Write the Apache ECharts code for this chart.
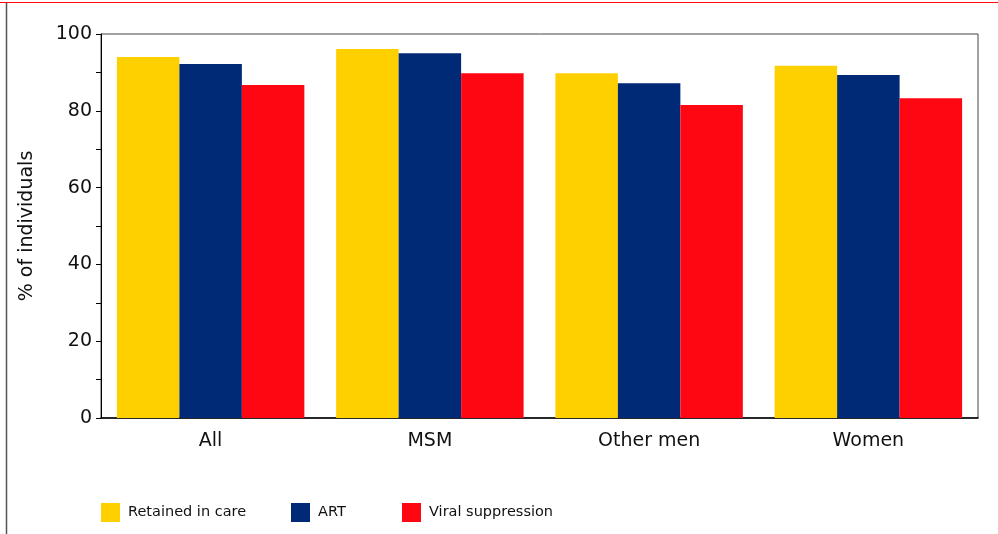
<!DOCTYPE html>
<html>
<head>
<meta charset="utf-8">
<script src="https://cdn.jsdelivr.net/npm/echarts@6/dist/echarts.min.js"></script>
<style>
  html, body { margin: 0; padding: 0; background: #ffffff; }
  #chart { width: 998px; height: 534px; }
</style>
</head>
<body>
<div id="chart"></div>
<script>
// Care cascade by population group (%)
const categories = ['All', 'MSM', 'Other men', 'Women'];
const retainedInCare = [94.0, 96.1, 89.8, 91.7];
const onART = [92.2, 95.0, 87.2, 89.3];
const viralSuppression = [86.7, 89.8, 81.5, 83.3];
const seriesNames = ['Retained in care', 'ART', 'Viral suppression'];
const seriesColors = ['#FFD000', '#002A76', '#FF0613'];
const yTicks = [0, 20, 40, 60, 80, 100];

const font = '"DejaVu Sans", Verdana, sans-serif';
const chart = echarts.init(document.getElementById('chart'));

const values = [retainedInCare, onART, viralSuppression];

function legendAt(i, left) {
  return {
    data: [seriesNames[i]],
    left: left,
    top: 503,
    padding: 0,
    itemWidth: 19,
    itemHeight: 19,
    itemGap: 0,
    icon: 'rect',
    textStyle: { fontFamily: font, fontSize: 14.5, color: '#111', padding: [0, 0, 0, 3] }
  };
}

chart.setOption({
  animation: false,
  backgroundColor: '#ffffff',
  grid: {
    left: 101, right: 20, top: 34, bottom: 116,
    show: true, borderColor: '#444', borderWidth: 1, backgroundColor: 'transparent'
  },
  legend: [legendAt(0, 101), legendAt(1, 291), legendAt(2, 402)],
  xAxis: {
    type: 'category',
    data: categories,
    axisLine: { show: true, lineStyle: { color: '#000', width: 1.5 } },
    axisTick: { show: false },
    axisLabel: { fontFamily: font, fontSize: 19, color: '#111', margin: 14 }
  },
  yAxis: {
    type: 'value',
    min: 0, max: 100, interval: 10,
    name: '% of individuals',
    nameLocation: 'middle',
    nameGap: 64,
    nameTextStyle: { fontFamily: font, fontSize: 19, color: '#111' },
    axisLine: { show: true, lineStyle: { color: '#000', width: 1 } },
    axisTick: { show: true, inside: false, length: 5, lineStyle: { color: '#000' } },
    splitLine: { show: false },
    axisLabel: {
      fontFamily: font, fontSize: 19, color: '#111', margin: 9,
      formatter: v => (yTicks.indexOf(v) >= 0 ? String(v) : '')
    }
  },
  series: seriesNames.map((name, i) => ({
    name: name,
    type: 'bar',
    data: values[i],
    barGap: '0%',
    barCategoryGap: '14.5%',
    itemStyle: { color: seriesColors[i] }
  })),
  graphic: [
    { type: 'line', shape: { x1: 0, y1: 2.5, x2: 998, y2: 2.5 }, style: { stroke: '#FF0613', lineWidth: 1 }, silent: true },
    { type: 'line', shape: { x1: 6.5, y1: 3, x2: 6.5, y2: 534 }, style: { stroke: '#555', lineWidth: 1.5 }, silent: true }
  ]
});
</script>
</body>
</html>
